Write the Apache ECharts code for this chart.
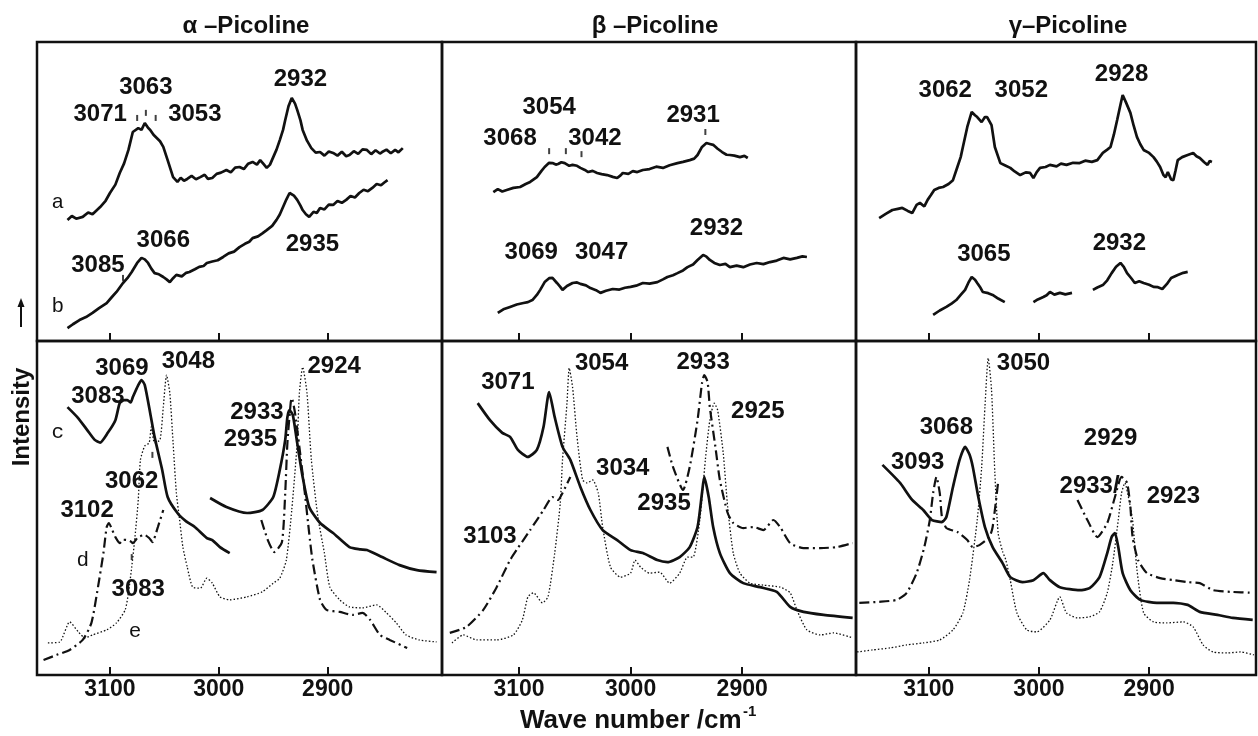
<!DOCTYPE html>
<html>
<head>
<meta charset="utf-8">
<script src="https://cdn.jsdelivr.net/npm/echarts@6/dist/echarts.min.js"></script>
<style>
  html, body { margin: 0; padding: 0; background: #fff; }
  #chart { width: 1258px; height: 736px; }
</style>
</head>
<body>
<div id="chart"></div>
<script>
// ---- data: [wave number (cm-1), intensity (arb.)] ----
// alpha-picoline, upper panel (traces a, b)
const alphaTopA = [[3139,40.5],[3135,41.8],[3131,40.9],[3125,41.5],[3120,43.0],[3116,42.4],[3109,44.8],[3104,46.9],[3100,49.5],[3095,52.3],[3091,56.2],[3087,59.4],[3083,63.9],[3079,69.9],[3074,71.2],[3071,70.6],[3068,72.9],[3065,71.3],[3063,70.6],[3060,69.0],[3057,67.9],[3054,66.8],[3051,64.9],[3047,60.5],[3042,54.8],[3038,53.2],[3035,54.6],[3032,53.6],[3029,54.2],[3025,55.2],[3021,54.1],[3017,54.8],[3013,55.6],[3010,54.2],[3006,54.5],[3002,55.9],[2998,56.3],[2993,57.2],[2989,56.4],[2985,58.0],[2981,58.2],[2977,57.5],[2973,59.3],[2969,59.9],[2965,59.0],[2962,60.5],[2959,59.2],[2956,57.9],[2953,59.0],[2950,61.5],[2947,64.0],[2944,67.2],[2941,70.6],[2939,73.9],[2936,78.5],[2933,81.3],[2930,79.4],[2928,77.3],[2925,73.8],[2923,70.6],[2919,67.0],[2915,64.5],[2911,63.0],[2907,63.2],[2903,62.0],[2899,63.4],[2895,62.9],[2891,62.0],[2887,63.3],[2883,61.8],[2880,62.2],[2876,63.5],[2872,62.6],[2868,64.1],[2864,63.9],[2860,62.5],[2856,63.8],[2852,62.7],[2850,63.2],[2846,64.0],[2842,62.8],[2838,63.9],[2835,63.1],[2831,64.5]];
const alphaTopB = [[3139,4.3],[3134,5.6],[3128,7.0],[3122,8.0],[3116,9.4],[3110,11.0],[3103,12.7],[3098,14.8],[3094,16.4],[3088,19.4],[3084,21.0],[3080,23.1],[3075,26.1],[3071,27.8],[3068,27.3],[3065,26.1],[3062,24.2],[3059,22.7],[3055,22.3],[3051,21.4],[3048,20.6],[3045,19.7],[3042,21.0],[3039,22.1],[3034,21.6],[3030,22.8],[3027,23.1],[3022,24.0],[3018,24.8],[3014,25.1],[3011,26.1],[3006,26.6],[3001,27.0],[2996,28.1],[2991,29.3],[2986,29.9],[2981,31.4],[2976,32.5],[2972,33.2],[2969,34.4],[2964,35.0],[2960,36.0],[2956,37.1],[2951,38.5],[2947,40.5],[2944,42.3],[2941,44.8],[2938,47.3],[2935,49.5],[2931,48.6],[2928,47.2],[2925,45.3],[2923,43.8],[2920,42.4],[2917,41.5],[2913,43.2],[2910,42.8],[2907,44.5],[2903,44.0],[2899,45.6],[2895,45.5],[2891,46.8],[2887,46.2],[2883,47.2],[2879,48.5],[2875,48.0],[2871,49.5],[2867,50.6],[2863,50.1],[2859,51.2],[2855,52.5],[2851,52.1],[2848,53.0],[2845,53.8]];
// alpha-picoline, lower panel (c solid, d dash-dot, e dotted)
const alphaC1 = [[3139,80.2],[3130,77.2],[3121,73.4],[3114,70.4],[3109,69.6],[3102,72.5],[3095,76.3],[3091,81.4],[3087,82.3],[3084,82.3],[3081,81.6],[3079,83.2],[3074,86.8],[3071,88.3],[3068,86.8],[3063,78.4],[3059,71.3],[3052,61.4],[3047,53.3],[3038,48.5],[3030,46.0],[3022,44.3],[3011,41.0],[3006,40.4],[2999,38.3],[2990,36.5]];
const alphaC2 = [[3008,53.0],[2993,50.3],[2974,48.5],[2960,49.4],[2950,53.3],[2944,61.4],[2939,70.4],[2937,77.2],[2935,79.3],[2932,77.8],[2928,69.5],[2923,59.3],[2917,50.3],[2907,45.5],[2895,42.5],[2880,38.3],[2870,37.6],[2864,37.4],[2850,35.3],[2834,32.9],[2818,31.4],[2800,30.8]];
const alphaD1 = [[3161,4.5],[3149,6.0],[3137,7.5],[3125,10.5],[3117,15.6],[3111,26.3],[3106,36.5],[3103,44.3],[3101,45.5],[3098,43.5],[3095,41.3],[3091,39.5],[3088,40.5],[3084,40.4],[3081,40.0],[3079,39.5],[3074,41.3],[3068,41.9],[3064,41.0],[3061,39.8],[3056,44.3],[3051,49.4]];
const alphaD2 = [[2961,46.4],[2955,40.4],[2949,36.8],[2942,39.8],[2939,54.5],[2937,69.5],[2934,81.4],[2933,82.9],[2930,78.4],[2926,68.3],[2921,54.5],[2917,42.5],[2914,34.4],[2907,22.5],[2901,19.5],[2889,18.9],[2877,18.0],[2868,18.6],[2861,16.5],[2852,12.0],[2843,10.5],[2827,8.1]];
const alphaE = [[3157,9.6],[3146,9.9],[3137,15.9],[3129,12.9],[3123,11.1],[3116,12.0],[3103,13.5],[3094,15.6],[3086,19.5],[3083,24.6],[3080,32.3],[3077,41.3],[3074,52.4],[3072,64.4],[3068,68.6],[3064,69.5],[3062,74.3],[3059,69.5],[3054,70.4],[3051,80.2],[3048,89.8],[3045,84.4],[3042,69.5],[3039,54.5],[3036,46.4],[3033,38.3],[3029,32.3],[3024,26.3],[3017,26.0],[3011,29.0],[3006,27.5],[2999,23.4],[2990,22.5],[2974,23.4],[2960,24.9],[2950,27.5],[2944,29.0],[2938,34.4],[2933,49.4],[2928,69.5],[2926,84.4],[2923,92.2],[2919,84.4],[2915,64.4],[2909,47.3],[2903,36.5],[2898,26.3],[2889,22.5],[2880,20.4],[2868,20.1],[2855,21.0],[2846,18.6],[2837,15.6],[2828,12.0],[2816,10.5],[2800,9.9]];

// beta-picoline
const betaTopA = [[3123,49.8],[3119,50.8],[3115,50.0],[3111,50.5],[3105,51.2],[3099,51.5],[3094,52.5],[3090,53.2],[3084,54.8],[3080,56.8],[3077,58.2],[3073,59.6],[3070,59.5],[3067,59.0],[3065,59.2],[3062,59.8],[3059,59.5],[3055,58.6],[3052,58.9],[3048,58.6],[3045,57.9],[3041,57.2],[3038,56.5],[3034,56.9],[3030,56.2],[3026,55.8],[3021,55.5],[3016,54.9],[3012,54.5],[3009,55.4],[3007,56.2],[3002,55.9],[2998,56.8],[2994,56.5],[2989,57.2],[2983,57.5],[2977,58.3],[2971,57.9],[2965,58.8],[2958,59.5],[2953,59.9],[2947,60.5],[2943,61.0],[2940,62.2],[2936,64.9],[2932,66.2],[2929,65.9],[2926,65.6],[2922,64.3],[2918,63.2],[2914,62.3],[2911,62.2],[2907,62.0],[2902,61.5],[2898,61.9],[2895,61.2]];
const betaTopB = [[3119,9.4],[3114,10.6],[3108,11.4],[3102,12.2],[3096,12.7],[3092,13.0],[3088,13.7],[3084,15.4],[3081,17.1],[3077,19.7],[3073,21.0],[3070,21.1],[3066,19.4],[3063,18.1],[3061,17.1],[3057,18.4],[3052,19.4],[3048,19.6],[3045,19.1],[3040,18.6],[3036,17.7],[3031,17.0],[3027,16.1],[3022,16.8],[3016,17.4],[3010,17.2],[3005,17.8],[3000,18.1],[2995,18.5],[2989,19.4],[2983,19.2],[2976,19.7],[2971,20.6],[2967,21.4],[2962,22.0],[2958,22.7],[2953,23.6],[2949,24.7],[2944,25.6],[2940,27.1],[2935,28.8],[2932,28.2],[2929,27.1],[2925,26.1],[2920,25.4],[2915,25.8],[2911,24.7],[2905,25.2],[2899,24.7],[2893,25.6],[2887,26.1],[2881,25.7],[2875,26.4],[2869,26.9],[2863,27.8],[2857,27.3],[2851,27.8],[2846,28.3],[2842,28.1]];
const betaC = [[3137,81.4],[3126,76.3],[3115,72.5],[3108,71.3],[3101,67.4],[3092,65.3],[3084,67.4],[3078,74.3],[3073,84.7],[3068,77.2],[3061,68.3],[3054,64.4],[3045,56.3],[3036,49.4],[3025,43.4],[3012,40.4],[3000,37.4],[2989,36.5],[2976,34.4],[2967,33.8],[2956,35.3],[2947,38.3],[2940,44.3],[2936,54.5],[2934,59.3],[2930,53.3],[2926,44.3],[2920,36.5],[2911,30.5],[2899,27.5],[2884,26.3],[2869,24.9],[2857,20.4],[2845,18.9],[2827,18.0],[2801,17.1]];
const betaD1 = [[3162,12.6],[3147,14.4],[3132,19.5],[3120,26.3],[3108,34.4],[3101,38.0],[3090,43.4],[3078,49.4],[3070,53.3],[3065,52.4],[3061,54.5],[3054,59.3]];
const betaD2 = [[2967,68.3],[2962,62.3],[2953,55.4],[2947,62.3],[2940,76.3],[2936,87.4],[2934,89.8],[2931,87.7],[2929,80.2],[2924,68.3],[2920,58.4],[2913,48.5],[2908,45.5],[2899,44.0],[2890,44.3],[2881,43.4],[2872,46.4],[2866,44.3],[2857,39.5],[2845,38.0],[2830,38.0],[2815,38.3],[2801,39.5]];
const betaE = [[3160,9.6],[3150,12.0],[3138,10.5],[3120,10.5],[3105,12.0],[3097,16.5],[3092,23.4],[3087,24.6],[3079,21.6],[3074,23.4],[3068,36.5],[3063,51.5],[3061,64.4],[3057,81.4],[3055,91.9],[3052,86.2],[3048,71.3],[3043,58.4],[3039,57.5],[3034,58.4],[3029,54.5],[3025,44.3],[3018,32.3],[3009,29.3],[3000,30.5],[2996,34.4],[2991,32.3],[2983,30.5],[2974,30.8],[2965,27.5],[2956,30.5],[2949,35.3],[2944,35.3],[2938,46.4],[2933,64.4],[2929,76.3],[2925,81.4],[2922,79.3],[2917,66.5],[2913,50.3],[2908,36.5],[2902,30.5],[2893,27.5],[2881,26.9],[2866,26.3],[2857,24.6],[2851,19.5],[2842,13.5],[2830,12.0],[2818,12.6],[2801,11.1]];

// gamma-picoline
const gammaTopA = [[3145,41.1],[3139,42.5],[3133,43.8],[3128,44.2],[3124,44.5],[3119,43.5],[3115,42.8],[3111,45.5],[3108,46.2],[3104,45.0],[3101,47.2],[3098,48.8],[3095,50.5],[3091,51.2],[3087,51.5],[3082,52.5],[3078,53.8],[3074,58.2],[3071,61.5],[3069,64.9],[3065,71.6],[3061,76.6],[3058,75.5],[3056,74.9],[3052,73.2],[3049,74.9],[3047,74.9],[3043,72.2],[3040,64.9],[3035,59.5],[3031,58.8],[3026,57.9],[3022,56.7],[3017,55.5],[3012,56.4],[3008,56.2],[3005,54.5],[3002,56.5],[2999,57.9],[2994,58.2],[2990,58.9],[2984,58.4],[2980,59.3],[2975,58.9],[2969,59.6],[2963,59.5],[2958,60.3],[2952,59.9],[2947,60.5],[2942,62.9],[2938,64.0],[2935,64.9],[2932,69.0],[2929,73.9],[2926,79.0],[2924,82.3],[2921,79.8],[2917,76.3],[2914,72.0],[2911,68.2],[2908,65.8],[2905,63.9],[2900,62.9],[2896,61.5],[2893,60.0],[2890,58.2],[2887,55.5],[2885,54.8],[2883,56.5],[2880,54.0],[2878,53.8],[2876,57.0],[2874,60.5],[2870,61.5],[2865,62.2],[2860,62.9],[2857,61.8],[2854,61.2],[2850,59.8],[2847,58.9],[2845,60.2],[2843,59.9]];
const gammaTopB1 = [[3096,8.7],[3090,10.2],[3084,11.4],[3079,12.6],[3075,13.7],[3071,15.4],[3067,17.1],[3064,19.5],[3061,21.4],[3058,20.5],[3056,19.4],[3053,17.8],[3051,16.4],[3046,16.0],[3042,15.4],[3037,14.2],[3031,13.0]];
const gammaTopB2 = [[3005,13.0],[3001,13.9],[2996,14.7],[2993,15.3],[2990,16.4],[2986,15.5],[2981,16.1],[2976,15.6],[2970,16.1]];
const gammaTopB3 = [[2951,17.1],[2947,17.9],[2942,18.7],[2938,20.3],[2934,22.7],[2930,24.8],[2926,26.1],[2923,24.8],[2920,22.7],[2916,20.9],[2913,19.4],[2909,20.0],[2905,19.4],[2900,18.8],[2896,18.1],[2892,18.0],[2888,17.4],[2884,19.0],[2880,21.1],[2877,21.6],[2874,22.1],[2869,22.8],[2865,23.1]];
const gammaC = [[3142,62.9],[3126,57.5],[3115,52.4],[3105,49.4],[3097,46.4],[3088,45.8],[3084,47.3],[3078,56.3],[3072,64.4],[3067,68.3],[3063,66.0],[3060,62.3],[3055,53.3],[3049,44.3],[3042,38.3],[3033,33.5],[3026,29.3],[3015,27.8],[3005,28.4],[2996,30.5],[2990,28.4],[2981,26.3],[2963,25.4],[2954,26.0],[2945,29.3],[2938,36.5],[2934,41.3],[2931,42.5],[2928,38.3],[2924,30.5],[2917,25.4],[2908,22.5],[2893,21.6],[2878,21.6],[2865,21.0],[2854,18.9],[2838,18.0],[2824,17.1],[2806,16.5]];
const gammaD1 = [[3163,21.6],[3145,21.9],[3129,22.5],[3120,24.6],[3111,30.5],[3104,38.3],[3099,46.4],[3096,54.5],[3093,59.3],[3090,54.5],[3088,47.3],[3084,44.0],[3074,42.8],[3065,40.4],[3060,38.3],[3054,38.9],[3045,41.3],[3042,44.3],[3037,57.8]];
const gammaD2 = [[2965,52.4],[2956,46.4],[2947,41.3],[2938,45.5],[2931,53.3],[2925,59.3],[2920,57.5],[2917,50.3],[2915,41.3],[2910,34.4],[2902,30.5],[2890,29.0],[2878,28.4],[2865,27.8],[2854,27.5],[2842,25.4],[2826,24.9],[2806,24.6]];
const gammaE = [[3165,6.9],[3151,7.5],[3135,8.1],[3120,9.0],[3105,9.6],[3090,10.5],[3078,13.5],[3069,18.6],[3063,28.4],[3056,46.4],[3052,62.0],[3049,80.2],[3046,94.9],[3043,85.3],[3040,60.5],[3037,42.5],[3033,37.0],[3030,34.4],[3026,28.4],[3020,18.6],[3011,13.5],[3002,12.9],[2990,16.5],[2981,23.4],[2975,18.6],[2965,17.1],[2954,17.4],[2945,18.9],[2938,24.6],[2933,33.5],[2928,46.4],[2925,54.5],[2922,57.5],[2918,52.0],[2915,46.4],[2911,31.4],[2905,18.6],[2896,15.9],[2884,15.6],[2869,15.9],[2860,14.4],[2851,9.0],[2842,6.9],[2829,6.6],[2817,6.9],[2805,6.0]];

// peak labels: [wave number, intensity, text]
const alphaTopLabels = [[3067,84.9,'3063'],[3109,75.9,'3071'],[3022,75.9,'3053'],[2925,87.6,'2932'],[3051,33.8,'3066'],[3111,25.4,'3085'],[2914,32.4,'2935']];
const alphaBotLabels = [[3089,91.9,'3069'],[3028,94.0,'3048'],[3111,83.5,'3083'],[2894,92.5,'2924'],[2965,78.7,'2933'],[2971,70.4,'2935'],[3080,58.1,'3062'],[3121,49.4,'3102'],[3074,25.7,'3083']];
const betaTopLabels = [[3073,78.3,'3054'],[3108,67.9,'3068'],[3032,67.9,'3042'],[2944,75.3,'2931'],[3089,29.8,'3069'],[3026,29.8,'3047'],[2923,37.8,'2932']];
const betaBotLabels = [[3110,87.7,'3071'],[3026,93.4,'3054'],[2935,93.7,'2933'],[2886,79.0,'2925'],[3007,62.0,'3034'],[2970,51.5,'2935'],[3126,41.6,'3103']];
const gammaTopLabels = [[3085,83.9,'3062'],[3016,83.9,'3052'],[2925,89.3,'2928'],[3050,29.1,'3065'],[2927,32.8,'2932']];
const gammaBotLabels = [[3014,93.4,'3050'],[3084,74.0,'3068'],[3110,63.8,'3093'],[2935,70.7,'2929'],[2954,56.6,'2933/'],[2878,53.6,'2923']];
// trace letters
const alphaTopLetters = [[3148,46.5,'a'],[3148,11.4,'b']];
const alphaBotLetters = [[3148,72.5,'c'],[3125,34.4,'d'],[3077,12.9,'e']];
// small marker ticks above peaks
const alphaTopTicks = [[3075,74.6],[3067,76.3],[3058,74.6],[3088,21.1]];
const alphaBotTicks = [[3061,65.9],[3080,35.3]];
const betaTopTicks = [[3073,63.5],[3058,63.5],[3044,62.5],[2933,69.9]];

const waveTicks = [3100, 3000, 2900];
const columnRanges = [[2795, 3167], [2798, 3169], [2803, 3166]];
const columnTitles = ['\u03b1 \u2013Picoline', '\u03b2 \u2013Picoline', '\u03b3\u2013Picoline'];

const FONT = '"Liberation Sans", Arial, sans-serif';
const INK = '#111';

const colLeft = [37, 442, 856];
const colWidth = [405, 414, 400];
const rowTop = [42, 341];
const rowHeight = [299, 334];

const grids = [];
const xAxes = [];
const yAxes = [];
for (let r = 0; r < 2; r++) {
  for (let c = 0; c < 3; c++) {
    const i = grids.length;
    grids.push({
      left: colLeft[c], top: rowTop[r], width: colWidth[c], height: rowHeight[r],
      show: true, borderColor: INK, borderWidth: 2.5, backgroundColor: 'transparent'
    });
    xAxes.push({
      gridIndex: i, type: 'value', inverse: true,
      min: columnRanges[c][0], max: columnRanges[c][1],
      axisLine: { show: false }, splitLine: { show: false },
      axisTick: { show: true, inside: true, length: 8, customValues: waveTicks, lineStyle: { color: INK, width: 2 } },
      axisLabel: {
        show: r === 1, customValues: waveTicks, margin: 3, formatter: v => String(v),
        color: INK, fontFamily: FONT, fontWeight: 'bold', fontSize: 23
      }
    });
    yAxes.push({ gridIndex: i, type: 'value', min: 0, max: 100, show: false });
  }
}

const solid = { color: INK, width: 2.7 };
const dashDot = { color: INK, width: 2.2, type: [10, 4, 2, 4] };
const dotted = { color: INK, width: 1.3, type: [1.5, 2] };

function trace(grid, data, style, smooth) {
  return {
    type: 'line', xAxisIndex: grid, yAxisIndex: grid, data: data,
    showSymbol: false, symbol: 'none', smooth: smooth || false,
    lineStyle: style, silent: true, animation: false
  };
}
function labels(grid, data, font, size, weight) {
  return {
    type: 'scatter', xAxisIndex: grid, yAxisIndex: grid, data: data,
    symbolSize: 1, itemStyle: { color: 'transparent' }, silent: true, animation: false, z: 10,
    label: {
      show: true, position: 'inside', formatter: p => p.data[2], opacity: 1,
      color: INK, textBorderWidth: 0, textBorderColor: 'transparent',
      fontFamily: font || FONT, fontSize: size || 24, fontWeight: weight || 'bold'
    }
  };
}
function ticks(grid, data) {
  return {
    type: 'scatter', xAxisIndex: grid, yAxisIndex: grid, data: data,
    symbol: 'rect', symbolSize: [2, 6], itemStyle: { color: INK }, silent: true, animation: false
  };
}

const S = 0.2;
const series = [
  trace(0, alphaTopA, solid), trace(0, alphaTopB, solid),
  trace(1, betaTopA, solid), trace(1, betaTopB, solid),
  trace(2, gammaTopA, solid), trace(2, gammaTopB1, solid), trace(2, gammaTopB2, solid), trace(2, gammaTopB3, solid),
  trace(3, alphaC1, solid, S), trace(3, alphaC2, solid, S),
  trace(3, alphaD1, dashDot, S), trace(3, alphaD2, dashDot, S), trace(3, alphaE, dotted, S),
  trace(4, betaC, solid, S), trace(4, betaD1, dashDot, S), trace(4, betaD2, dashDot, S), trace(4, betaE, dotted, S),
  trace(5, gammaC, solid, S), trace(5, gammaD1, dashDot, S), trace(5, gammaD2, dashDot, S), trace(5, gammaE, dotted, S),
  labels(0, alphaTopLabels), labels(3, alphaBotLabels),
  labels(1, betaTopLabels), labels(4, betaBotLabels),
  labels(2, gammaTopLabels), labels(5, gammaBotLabels),
  labels(0, alphaTopLetters, '"Liberation Mono", monospace', 21, 'normal'),
  labels(3, alphaBotLetters, '"Liberation Mono", monospace', 21, 'normal'),
  ticks(0, alphaTopTicks), ticks(3, alphaBotTicks), ticks(1, betaTopTicks)
];

const titleCenters = [246, 655, 1068];
const graphics = columnTitles.map((t, i) => ({
  type: 'text', x: titleCenters[i], y: 26,
  style: { text: t, align: 'center', verticalAlign: 'middle', fill: INK, font: 'bold 24px ' + FONT }
}));
graphics.push(
  { type: 'text', x: 22, y: 417, rotation: Math.PI / 2,
    style: { text: 'Intensity', align: 'center', verticalAlign: 'middle', fill: INK, font: 'bold 24px ' + FONT } },
  { type: 'line', shape: { x1: 21, y1: 327, x2: 21, y2: 303 }, style: { stroke: INK, lineWidth: 2 } },
  { type: 'polygon', shape: { points: [[17.5, 307], [21, 298], [24.5, 307]] }, style: { fill: INK } },
  { type: 'text', x: 520, y: 721,
    style: { text: 'Wave number /cm', align: 'left', verticalAlign: 'middle', fill: INK, font: 'bold 26px ' + FONT } },
  { type: 'text', x: 743, y: 712,
    style: { text: '-1', align: 'left', verticalAlign: 'middle', fill: INK, font: 'bold 15px ' + FONT } }
);

const chart = echarts.init(document.getElementById('chart'));
chart.setOption({
  backgroundColor: '#fff',
  animation: false,
  grid: grids,
  xAxis: xAxes,
  yAxis: yAxes,
  series: series,
  graphic: graphics
});
</script>
</body>
</html>
